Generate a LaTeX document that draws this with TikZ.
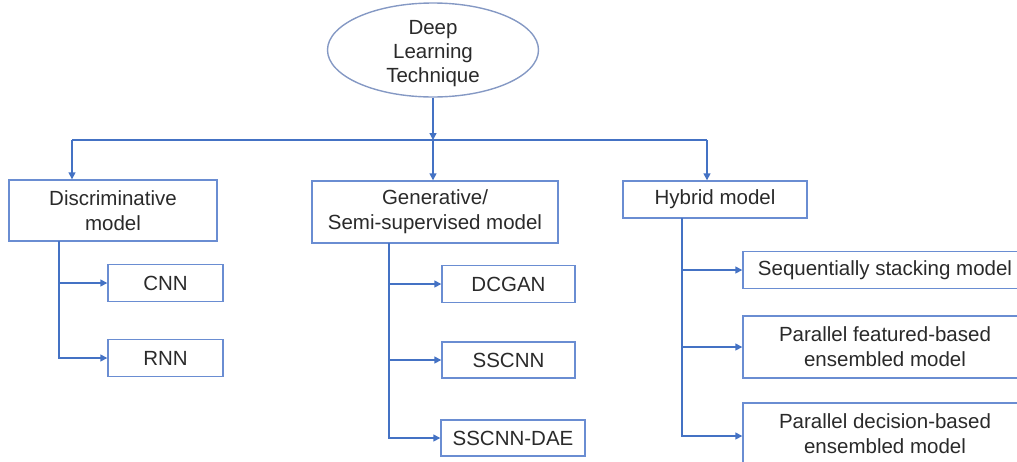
\documentclass[tikz,border=0pt]{standalone}
\usepackage{fontspec}
\setmainfont{Liberation Sans}
\usepackage{tikz}
\usetikzlibrary{arrows.meta,shapes.geometric}
\definecolor{linkblue}{HTML}{4472C4}
\definecolor{boxblue}{HTML}{6A8DD2}
\definecolor{ovalblue}{HTML}{8599C4}
\definecolor{inkgray}{HTML}{2A2A2A}
\tikzset{
	box/.style={draw=boxblue, line width=1.4pt, rectangle, align=center, text=inkgray,
		font=\fontsize{20.5}{25}\selectfont, inner sep=0pt},
	oval/.style={draw=ovalblue, line width=1.4pt, ellipse, inner sep=0pt},
	ovaltext/.style={align=center, text=inkgray, font=\fontsize{20.5}{24}\selectfont, inner sep=0pt},
	link/.style={draw=linkblue, line width=1.4pt, -{Triangle[length=7pt,width=7pt]}},
	wire/.style={draw=linkblue, line width=1.4pt}
}

\begin{document}
\begin{tikzpicture}[x=1pt,y=-1pt]
			%%%%% START %%%%%
			\useasboundingbox (0,0) rectangle (1017,461);
			\clip (0,0) rectangle (1017,461);
			
			\node[oval, minimum width=211pt, minimum height=94pt] (dlt) at (433, 50) {};
			\node[ovaltext] (dltxt) at (433, 54) {Deep\\Learning\\Technique};
			
			\node[box, minimum width=208pt, minimum height=61pt] (disc) at (113, 210.5) {Discriminative\\model};
			\node[box, minimum width=246pt, minimum height=62pt] (gen) at (435, 212) {Generative/\\Semi-supervised model};
			\node[box, minimum width=184pt, minimum height=37pt] (hyb) at (715, 199.5) {Hybrid model};
			
			\node[box, minimum width=115pt, minimum height=37pt] (cnn) at (165.5, 283) {CNN};
			\node[box, minimum width=115pt, minimum height=37pt] (rnn) at (165.5, 358) {RNN};
			
			\node[box, minimum width=133pt, minimum height=37pt] (dcgan) at (508.5, 284) {DCGAN};
			\node[box, minimum width=133pt, minimum height=36pt] (sscnn) at (508.5, 360) {SSCNN};
			\node[box, minimum width=144pt, minimum height=36pt] (dae) at (513, 438) {SSCNN-DAE};
			
			\node[box, minimum width=284pt, minimum height=37pt] (seq) at (885, 270) {Sequentially stacking model};
			\node[box, minimum width=284pt, minimum height=62pt] (pfe) at (885, 347) {Parallel featured-based\\ensembled model};
			\node[box, minimum width=284pt, minimum height=62pt] (pde) at (885, 434) {Parallel decision-based\\ensembled model};
			
			% top level bar
			\coordinate (bar) at (433, 140);
			\coordinate (barL) at (72, 140);
			\coordinate (barR) at (707, 140);
			\draw[link] (dlt.south) -- (bar);
			\draw[wire] (barL) -- (barR);
			\draw[link] (bar) -- (bar |- gen.north);
			\draw[link] (barL) -- (barL |- disc.north);
			\draw[link] (barR) -- (barR |- hyb.north);
			
			% branches
			\coordinate (dtop) at (59, 241);
			\draw[link] (dtop) |- (rnn.west);
			\draw[link] (dtop |- cnn.west) -- (cnn.west);
			
			\coordinate (gtop) at (389, 243);
			\draw[link] (gtop) |- (dae.west);
			\draw[link] (gtop |- dcgan.west) -- (dcgan.west);
			\draw[link] (gtop |- sscnn.west) -- (sscnn.west);
			
			\coordinate (htop) at (682, 218);
			\draw[link] (htop) |- ([yshift=-2pt]pde.west);
			\draw[link] (htop |- seq.west) -- (seq.west);
			\draw[link] (htop |- pfe.west) -- (pfe.west);
			
			%%%%% END %%%%%
\end{tikzpicture}
\end{document}
